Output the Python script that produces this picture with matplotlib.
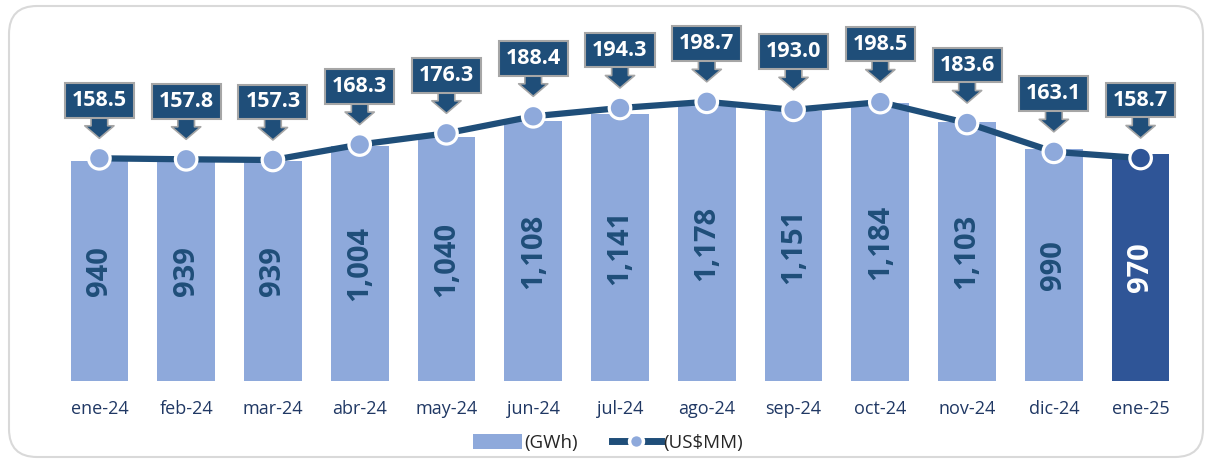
import matplotlib
matplotlib.use("Agg")
import matplotlib.pyplot as plt
from matplotlib.patches import FancyBboxPatch
from matplotlib.lines import Line2D
from matplotlib.transforms import offset_copy, IdentityTransform

months = ["ene-24", "feb-24", "mar-24", "abr-24", "may-24", "jun-24", "jul-24",
          "ago-24", "sep-24", "oct-24", "nov-24", "dic-24", "ene-25"]
energy_gwh = [940, 939, 939, 1004, 1040, 1108, 1141, 1178, 1151, 1184, 1103, 990, 970]
cost_usd_mm = [158.5, 157.8, 157.3, 168.3, 176.3, 188.4, 194.3, 198.7, 193.0, 198.5, 183.6, 163.1, 158.7]
legend_labels = ["(GWh)", "(US$MM)"]

light = "#8EA9DB"
dark_bar = "#2F5597"
navy = "#1F4E79"
text_navy = "#203864"
grey = "#A6A6A6"

W, H, DPI = 1215, 461, 100
fig = plt.figure(figsize=(W / DPI, H / DPI), dpi=DPI)
plt.rcParams['font.family'] = ['Open Sans', 'DejaVu Sans']

# rounded frame (pixel coordinates)
frame = FancyBboxPatch((9, 4), 1203 - 9, 451,
                       boxstyle="round,pad=0,rounding_size=28",
                       transform=IdentityTransform(), fc="none", ec="#D9D9D9", lw=1.5,
                       zorder=0)
fig.patches.append(frame)

left_px, right_px = 56, 1184
bottom_px, top_px = 381, 10
ax = fig.add_axes([left_px / W, (H - bottom_px) / H, (right_px - left_px) / W, (bottom_px - top_px) / H])
ax.patch.set_visible(False)
x = list(range(len(months)))
colors = [light] * (len(months) - 1) + [dark_bar]
bars = ax.bar(x, energy_gwh, width=0.665, color=colors, zorder=2)
ax.set_xlim(-0.5, len(months) - 0.5)
ax.set_ylim(0, (bottom_px - top_px) / 0.2344)
for s in ax.spines.values():
    s.set_visible(False)
ax.set_yticks([])
ax.set_xticks(x)
ax.set_xticklabels(months, fontsize=13, color=text_navy)
ax.tick_params(axis='x', length=0, pad=14)

for i, (b, v) in enumerate(zip(bars, energy_gwh)):
    ax.text(b.get_x() + b.get_width() / 2, v / 2, f"{v:,}", rotation=90,
            ha='center', va='center', fontsize=21, fontweight='bold',
            color='white' if i == len(months) - 1 else navy, zorder=3)

ax2 = ax.twinx()
ax2.patch.set_visible(False)
ax2.set_ylim(0, (bottom_px - top_px) / 1.405)
for s in ax2.spines.values():
    s.set_visible(False)
ax2.set_yticks([])
ax2.plot(x, cost_usd_mm, color=navy, lw=4.5, solid_capstyle='round', zorder=3)
mcolors = [light] * (len(months) - 1) + [dark_bar]
ax2.scatter(x, cost_usd_mm, s=15.5 ** 2, c=mcolors, edgecolors='white', linewidths=2.3, zorder=4)

for i, v in enumerate(cost_usd_mm):
    tip = offset_copy(ax2.transData, fig=fig, x=0, y=20, units='dots')
    ax2.annotate('', xy=(i, v), xycoords=tip, xytext=(0, 22), textcoords='offset pixels',
                 arrowprops=dict(width=12, headwidth=21, headlength=9, shrink=0,
                                 fc=navy, ec=grey, lw=1.2), zorder=5)
    ax2.annotate(f"{v:.1f}", xy=(i, v), xytext=(0, 58), textcoords='offset pixels',
                 ha='center', va='center', fontsize=15.5, fontweight='bold', color='white',
                 bbox=dict(boxstyle='square,pad=0.32', fc=navy, ec=grey, lw=1.5), zorder=6,
                 annotation_clip=False)

handles = [plt.Rectangle((0, 0), 1, 1, fc=light, ec='none'),
           Line2D([0], [0], color=navy, lw=5, marker='o', ms=10, mfc=light, mec='white', mew=2.5)]
fig.legend(handles, legend_labels, loc='center', bbox_to_anchor=(608 / W, (H - 443) / H),
           ncol=2, frameon=False, fontsize=13.5, handlelength=2.6, handleheight=0.9,
           columnspacing=1.8, handletextpad=0.15, labelcolor='#262626')

fig.savefig("out.png", dpi=DPI)
